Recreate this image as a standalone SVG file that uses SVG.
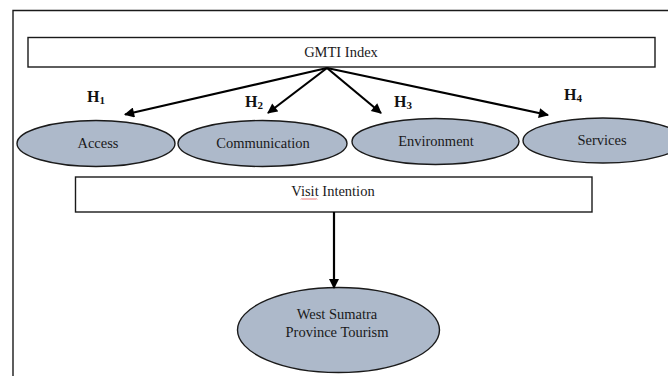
<svg xmlns="http://www.w3.org/2000/svg" width="668" height="376" viewBox="0 0 668 376">
<defs>
<style>
.box{fill:#fff;stroke:#1a1a1a;stroke-width:1.4}
.ell{fill:#adb9ca;stroke:#1a1a1a;stroke-width:1.4}
.t{font-family:"Liberation Serif","Times New Roman",serif;font-size:14.5px;fill:#1a1a1a;text-anchor:middle}
.h{font-family:"Liberation Serif","Times New Roman",serif;font-size:16px;font-weight:bold;fill:#111}
.sub{font-size:11px}
.c{stroke:#000;stroke-width:2.2;fill:none;marker-end:url(#ah)}
</style>
<marker id="ah" viewBox="0 0 10 10" refX="9" refY="5" markerWidth="5.2" markerHeight="4.6" orient="auto" markerUnits="strokeWidth">
<path d="M0,0 L10,5 L0,10 z" fill="#000"/>
</marker>
</defs>
<rect width="668" height="376" fill="#fff"/>
<path d="M13,376 V10.5 H668" fill="none" stroke="#1a1a1a" stroke-width="1.4"/>
<g id="gmti">
<rect class="box" x="28" y="37.5" width="627" height="29.5"/>
<text class="t" x="341" y="57">GMTI Index</text>
</g>
<g id="access">
<ellipse class="ell" cx="96" cy="143.5" rx="79" ry="23"/>
<text class="t" x="98" y="148">Access</text>
</g>
<g id="communication">
<ellipse class="ell" cx="262.5" cy="143.5" rx="84.5" ry="23"/>
<text class="t" x="263" y="148">Communication</text>
</g>
<g id="environment">
<ellipse class="ell" cx="435.5" cy="141.5" rx="83.5" ry="23"/>
<text class="t" x="436" y="146">Environment</text>
</g>
<g id="services">
<ellipse class="ell" cx="603" cy="140.5" rx="80" ry="22.5"/>
<text class="t" x="602" y="145">Services</text>
</g>
<g id="visit">
<rect class="box" x="75.5" y="177" width="516.5" height="35"/>
<text class="t" x="333" y="196">Visit Intention</text>
<path d="M301,199.5 l1,-1 l1,1 l1,-1 l1,1 l1,-1 l1,1 l1,-1 l1,1 l1,-1 l1,1 l1,-1 l1,1 l1,-1 l1,1 l1,-1 l1,1" fill="none" stroke="#e03030" stroke-width="0.7"/>
</g>
<g id="tourism">
<ellipse class="ell" cx="338.5" cy="330" rx="101" ry="42.5"/>
<text class="t" x="337" y="319">West Sumatra</text>
<text class="t" x="337" y="337">Province Tourism</text>
</g>
<g id="connectors">
<line class="c" x1="327" y1="68" x2="125" y2="114.5"/>
<line class="c" x1="327" y1="68" x2="268" y2="113"/>
<line class="c" x1="327" y1="68" x2="381" y2="113"/>
<line class="c" x1="327" y1="68" x2="548" y2="115"/>
<line class="c" x1="334" y1="212" x2="334" y2="288"/>
</g>
<g id="labels">
<text class="h" x="87" y="102">H<tspan class="sub" dy="2">1</tspan></text>
<text class="h" x="245" y="107">H<tspan class="sub" dy="2">2</tspan></text>
<text class="h" x="394" y="107">H<tspan class="sub" dy="2">3</tspan></text>
<text class="h" x="564" y="100">H<tspan class="sub" dy="2">4</tspan></text>
</g>
</svg>
